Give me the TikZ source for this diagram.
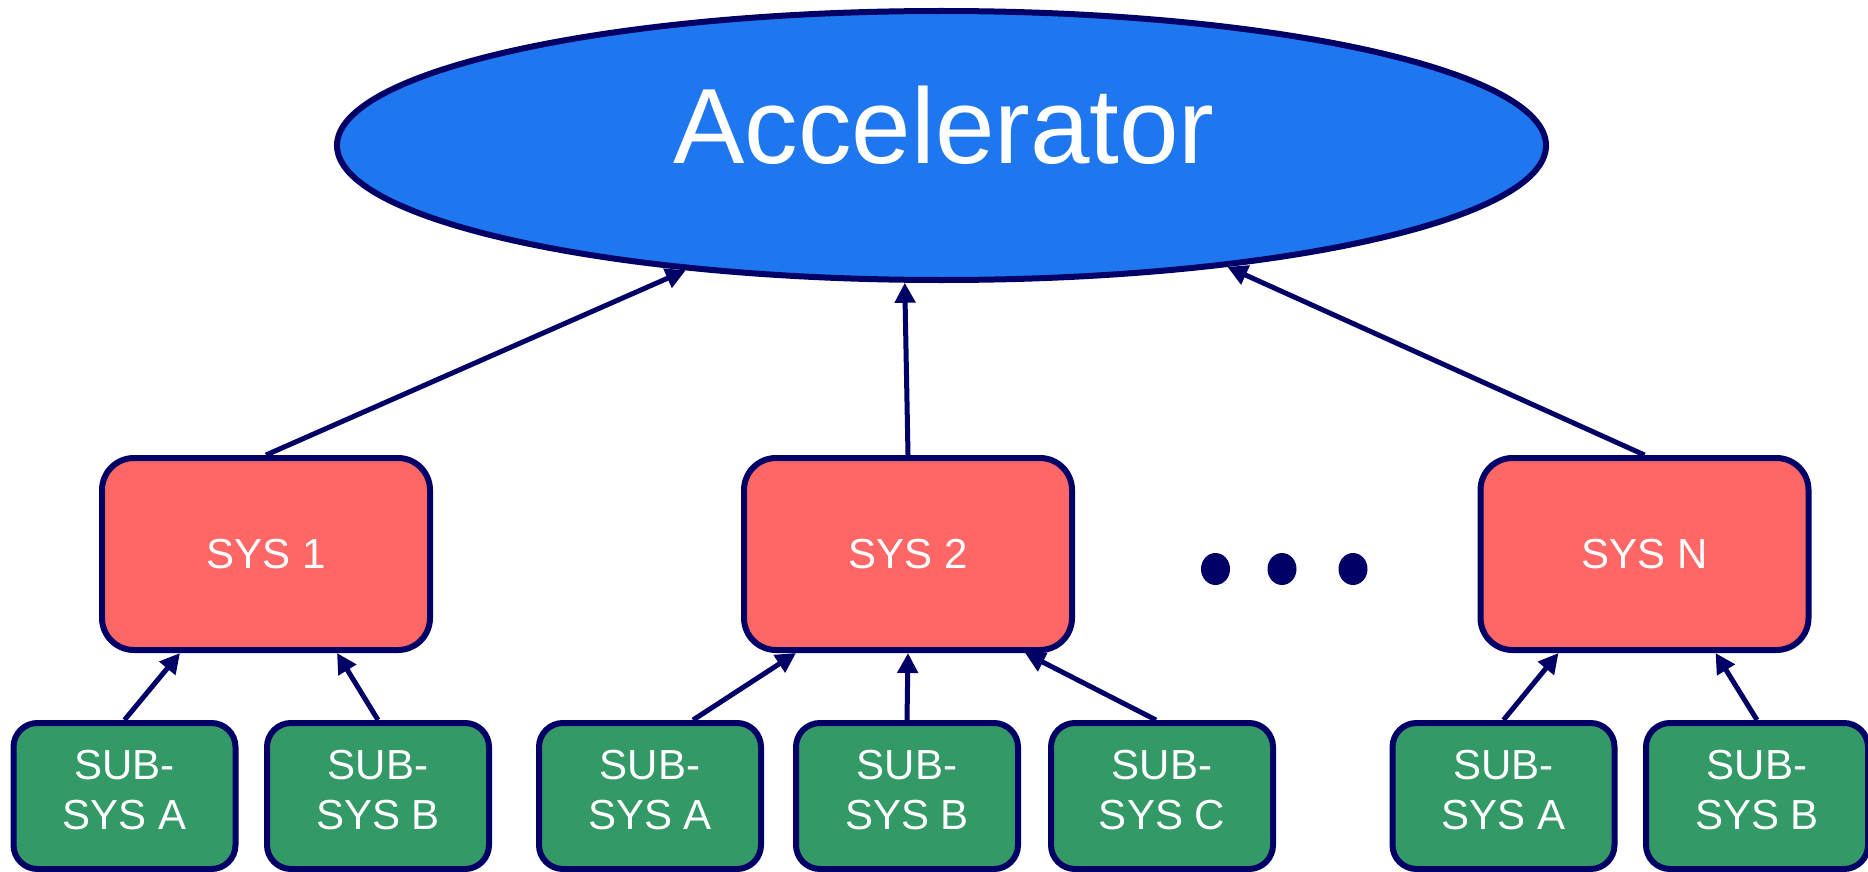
\documentclass[tikz,border=0pt]{standalone}
\usepackage{fontspec}
\setmainfont{Liberation Sans}
\usetikzlibrary{arrows.meta,shapes.geometric}
\definecolor{navy}{RGB}{0,0,102}
\definecolor{accblue}{RGB}{31,119,240}
\definecolor{sysred}{RGB}{255,102,102}
\definecolor{subgreen}{RGB}{51,153,102}
\newcommand{\lowstrut}{\rule[-13pt]{0pt}{13pt}}
\begin{document}
\begin{tikzpicture}[x=1pt,y=-1pt,
  accel/.style={ellipse, draw=navy, line width=6pt, fill=accblue, minimum width=1209pt, minimum height=269pt, inner sep=0pt},
  acctext/.style={text=white, font=\fontsize{107}{120}\selectfont, inner sep=0pt},
  sysbox/.style={rectangle, rounded corners=32pt, draw=navy, line width=6pt, fill=sysred, minimum width=328pt, minimum height=192pt, text=white, font=\fontsize{42}{50}\selectfont, inner sep=0pt},
  subbox/.style={rectangle, rounded corners=24pt, draw=navy, line width=6pt, fill=subgreen, minimum width=222pt, minimum height=146pt, text=white, font=\fontsize{42}{50}\selectfont, align=center, inner sep=0pt},
  dotmark/.style={ellipse, fill=navy, minimum width=29pt, minimum height=32pt, inner sep=0pt},
  conn/.style={draw=navy, line width=5pt, -{Triangle[length=20pt,width=20pt]}}
]
\useasboundingbox (0,0) rectangle (1868,872);

\node[accel] (acc) at (941.5,145.5) {};
\node[acctext, anchor=base] (acclabel) at (944,163) {Accelerator};

\node[sysbox] (sys1) at (266,554) {SYS 1};
\node[sysbox] (sys2) at (908,554) {SYS 2};
\node[sysbox] (sysN) at (1644.5,554) {SYS N};

\node[dotmark] (dot1) at (1215.5,569) {};
\node[dotmark] (dot2) at (1282,569) {};
\node[dotmark] (dot3) at (1353,569) {};

\node[subbox] (sub1a) at (124.5,796) {SUB-\\SYS A\lowstrut};
\node[subbox] (sub1b) at (378,796) {SUB-\\SYS B\lowstrut};
\node[subbox] (sub2a) at (650,796) {SUB-\\SYS A\lowstrut};
\node[subbox] (sub2b) at (907,796) {SUB-\\SYS B\lowstrut};
\node[subbox] (sub2c) at (1162,796) {SUB-\\SYS C\lowstrut};
\node[subbox] (subNa) at (1503.5,796) {SUB-\\SYS A\lowstrut};
\node[subbox] (subNb) at (1757,796) {SUB-\\SYS B\lowstrut};

\draw[conn] (sys1.north) -- (acc.206);
\draw[conn] (sys2.north) -- (acc.255);
\draw[conn] (sysN.north) -- (acc.337.5);

\draw[conn] (sub1a.north) -- ([xshift=-86pt]sys1.south);
\draw[conn] (sub1b.north) -- ([xshift=71pt]sys1.south);
\draw[conn] ([xshift=43pt]sub2a.north) -- ([xshift=-112pt]sys2.south);
\draw[conn] (sub2b.north) -- (sys2.south);
\draw[conn] ([xshift=-6pt]sub2c.north) -- ([xshift=117pt]sys2.south);
\draw[conn] (subNa.north) -- ([xshift=-86pt]sysN.south);
\draw[conn] (subNb.north) -- ([xshift=71pt]sysN.south);
\end{tikzpicture}
\end{document}
